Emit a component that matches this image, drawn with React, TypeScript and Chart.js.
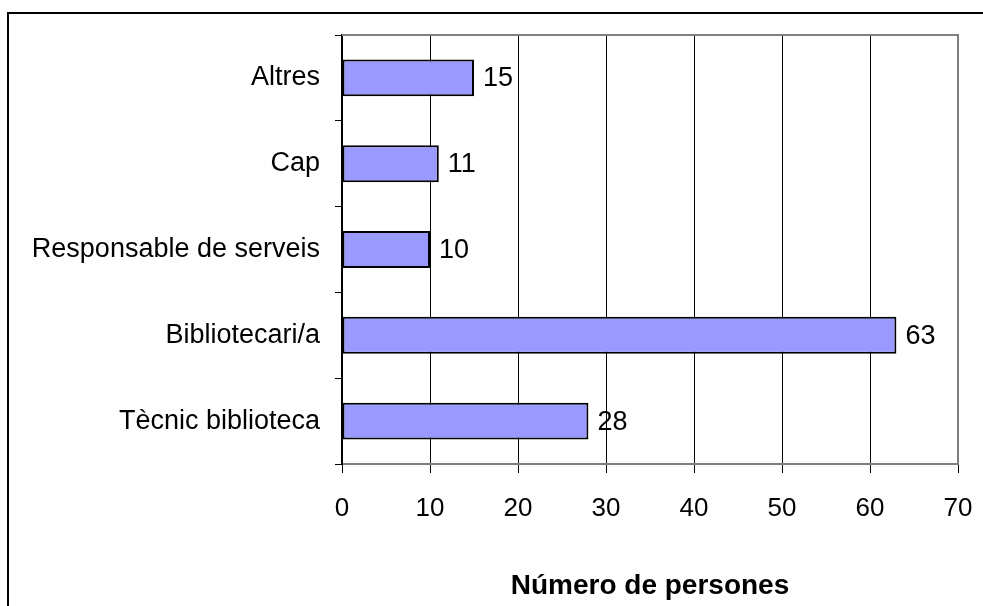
import React, { useEffect, useRef } from "react";
import { Chart, registerables } from "chart.js";

Chart.register(...registerables);

const categories = ["Altres", "Cap", "Responsable de serveis", "Bibliotecari/a", "Tècnic biblioteca"];
const values = [15, 11, 10, 63, 28];
const xTicks = [0, 10, 20, 30, 40, 50, 60, 70];
const xTitle = "Número de persones";

const FONT = "'Liberation Sans', Arial, Helvetica, sans-serif";

const framePlugin = {
  id: "frame",
  beforeDraw(chart: any) {
    const ctx = chart.ctx;
    ctx.save();
    ctx.fillStyle = "#ffffff";
    ctx.fillRect(0, 0, chart.width, chart.height);
    ctx.strokeStyle = "#000000";
    ctx.lineWidth = 2;
    ctx.beginPath();
    ctx.moveTo(8, chart.height + 5);
    ctx.lineTo(8, 13);
    ctx.lineTo(chart.width + 5, 13);
    ctx.stroke();
    ctx.restore();
  },
  afterDraw(chart: any) {
    const { ctx, chartArea } = chart;
    ctx.save();
    ctx.strokeStyle = "#808080";
    ctx.lineWidth = 2;
    ctx.beginPath();
    ctx.moveTo(chartArea.left, chartArea.top);
    ctx.lineTo(chartArea.right, chartArea.top);
    ctx.lineTo(chartArea.right, chartArea.bottom);
    ctx.stroke();
    // value labels
    const meta = chart.getDatasetMeta(0);
    ctx.fillStyle = "#000000";
    ctx.font = `27px ${FONT}`;
    ctx.textAlign = "left";
    ctx.textBaseline = "middle";
    meta.data.forEach((bar: any, i: number) => {
      ctx.fillText(String(values[i]), bar.x + 9, bar.y + 1);
    });
    ctx.restore();
  },
};

export default function App() {
  const ref = useRef<HTMLCanvasElement>(null);
  useEffect(() => {
    if (!ref.current) return;
    const chart = new Chart(ref.current, {
      type: "bar",
      data: {
        labels: categories,
        datasets: [
          {
            data: values,
            backgroundColor: "#9999FF",
            borderColor: "#000000",
            borderWidth: 2,
            borderSkipped: false,
            barPercentage: 0.43,
            categoryPercentage: 1,
          },
        ],
      },
      options: {
        indexAxis: "y",
        animation: false,
        responsive: false,
        layout: { padding: { top: 35, right: 25, left: 0, bottom: 0 } },
        plugins: { legend: { display: false }, tooltip: { enabled: false }, title: { display: false } },
        scales: {
          x: {
            type: "linear",
            min: 0,
            max: 70,
            afterBuildTicks(scale: any) {
              scale.ticks = xTicks.map((v) => ({ value: v }));
            },
            afterFit(scale: any) {
              scale.height = 142;
              scale.paddingLeft = 0;
              scale.paddingRight = 0;
            },
            grid: {
              color: "#000000",
              lineWidth: 1,
              drawTicks: true,
              tickLength: 9,
              tickColor: "#000000",
            },
            border: { display: true, color: "#808080", width: 2 },
            ticks: {
              color: "#000000",
              font: { family: FONT, size: 26 },
              padding: 20,
              maxRotation: 0,
            },
            title: {
              display: true,
              text: xTitle,
              color: "#000000",
              font: { family: FONT, size: 28, weight: "bold" },
              padding: { top: 0, bottom: 3 },
            },
          },
          y: {
            type: "category",
            afterFit(scale: any) {
              scale.width = 342;
              scale.paddingTop = 0;
              scale.paddingBottom = 0;
            },
            grid: {
              offset: true,
              drawOnChartArea: false,
              drawTicks: true,
              tickLength: 7,
              tickColor: "#000000",
              color: "#000000",
            },
            border: { display: true, color: "#000000", width: 2 },
            ticks: {
              color: "#000000",
              font: { family: FONT, size: 27 },
              padding: 15,
            },
          },
        },
      },
      plugins: [framePlugin],
    } as any);
    return () => chart.destroy();
  }, []);
  return (
    <div style={{ position: "absolute", left: 0, top: 0, width: 983, height: 606, background: "#fff" }}>
      <canvas ref={ref} width={983} height={606} style={{ display: "block" }} />
    </div>
  );
}
